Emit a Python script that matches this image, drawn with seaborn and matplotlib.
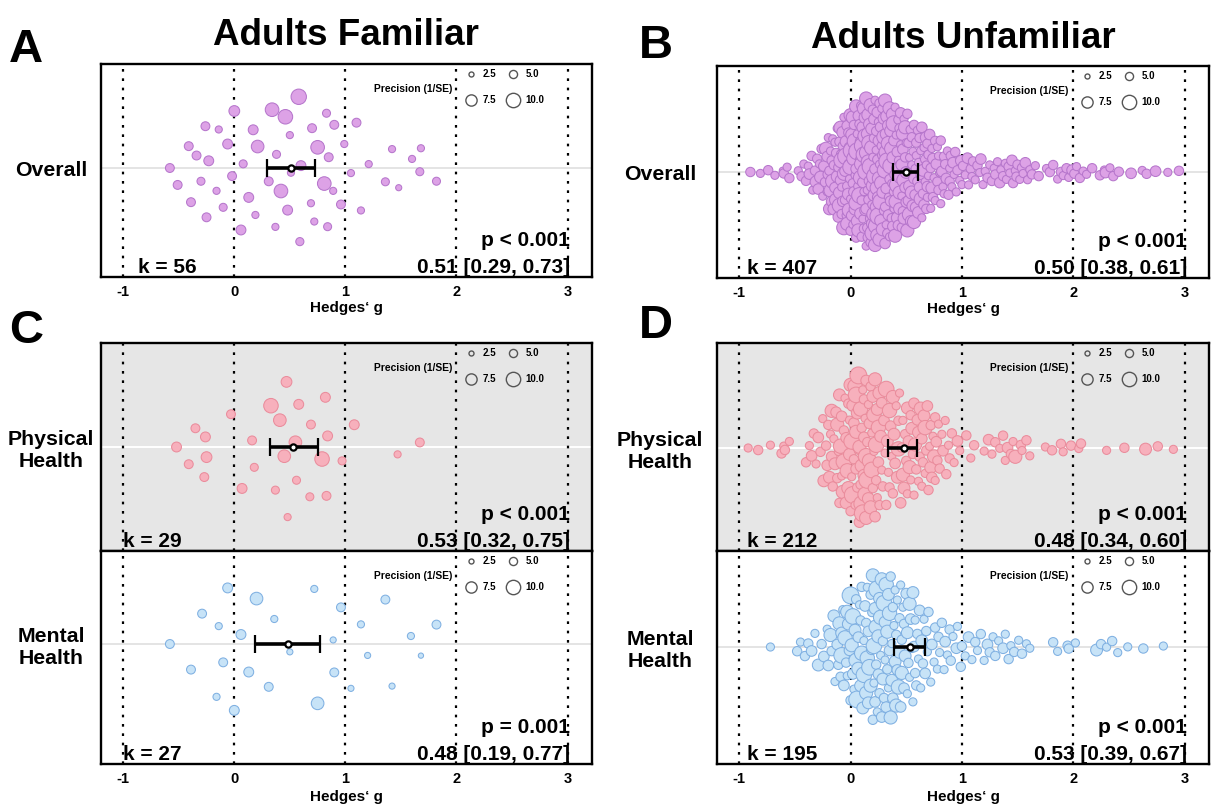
import numpy as np
import matplotlib
matplotlib.use("Agg")
import matplotlib.pyplot as plt
from matplotlib.lines import Line2D
import seaborn as sns


def vals(text):
    return np.array(text.split(), dtype=float)


# ---------------------------------------------------------------- data
# Effect sizes (Hedges' g) and precision (1/SE) of every study

# Adults, familiar partner - overall
fam_overall_g = vals("""
-0.58 -0.51 -0.41 -0.39 -0.34 -0.30 -0.26 -0.25 -0.23 -0.16
-0.14 -0.10 -0.06 -0.02 0.00 0.06 0.08 0.13 0.17 0.19
0.21 0.31 0.34 0.37 0.38 0.42 0.46 0.48 0.50 0.51
0.58 0.59 0.60 0.69 0.70 0.72 0.75 0.81 0.83 0.84
0.85 0.89 0.90 0.96 0.99 1.05 1.10 1.14 1.21 1.36
1.42 1.48 1.60 1.67 1.68 1.82
""")
fam_overall_prec = vals("""
5.6 5.6 5.6 5.6 5.6 4.9 5.6 5.6 6.4 4.2
4.2 4.9 6.4 5.6 7.1 6.4 4.9 6.4 6.4 4.2
8.6 5.6 9.4 4.2 4.9 9.4 10.1 6.4 4.2 4.2
10.8 5.0 6.4 4.2 5.6 4.2 9.4 9.4 4.9 4.9
5.6 4.2 5.6 5.6 4.2 4.2 5.6 4.2 4.2 4.9
4.2 3.4 4.2 4.9 4.2 4.9
""")

# Adults, familiar partner - physical health
fam_physical_g = vals("""
-0.52 -0.41 -0.35 -0.27 -0.26 -0.25 -0.03 0.07 0.16 0.18
0.33 0.37 0.41 0.45 0.47 0.48 0.55 0.56 0.58 0.68
0.69 0.79 0.82 0.83 0.84 0.97 1.08 1.47 1.67
""")
fam_physical_prec = vals("""
6.4 5.6 5.6 5.6 6.4 7.1 5.6 6.4 5.6 4.9
10.1 4.9 8.6 8.6 7.1 4.2 8.6 4.9 6.4 4.9
5.6 10.1 6.4 5.6 6.4 4.9 6.4 4.2 5.6
""")

# Adults, familiar partner - mental health
fam_mental_g = vals("""
-0.58 -0.39 -0.29 -0.16 -0.14 -0.10 -0.06 0.00 0.06 0.13
0.20 0.31 0.36 0.50 0.72 0.75 0.89 0.90 0.96 1.05
1.14 1.20 1.36 1.42 1.59 1.68 1.82
""")
fam_mental_prec = vals("""
5.6 5.6 5.6 4.2 4.2 5.6 6.4 6.4 6.4 6.4
8.6 5.6 4.2 3.4 4.2 8.6 3.4 5.6 5.6 3.4
4.2 3.4 5.6 3.4 4.2 2.7 5.6
""")

# Adults, unfamiliar partner - overall
unfam_overall_g = vals("""
-0.90 -0.81 -0.74 -0.68 -0.61 -0.60 -0.57 -0.55 -0.47 -0.44 -0.42
-0.40 -0.38 -0.37 -0.35 -0.34 -0.32 -0.31
-0.30 -0.29 -0.28 -0.27 -0.26 -0.25 -0.24 -0.23 -0.22 -0.21 -0.21
-0.20 -0.20 -0.19 -0.19 -0.18 -0.18 -0.17 -0.17 -0.16 -0.16 -0.15 -0.15 -0.14 -0.14 -0.13 -0.13 -0.12 -0.12 -0.11 -0.11
-0.10 -0.10 -0.10 -0.09 -0.09 -0.09 -0.08 -0.08 -0.08 -0.07 -0.07 -0.07 -0.06 -0.06 -0.06 -0.05 -0.05 -0.04 -0.04 -0.04 -0.03 -0.03 -0.03 -0.02 -0.02 -0.02 -0.01 -0.01 -0.01
0.00 0.00 0.00 0.00 0.01 0.01 0.01 0.02 0.02 0.02 0.03 0.03 0.03 0.04 0.04 0.04 0.05 0.05 0.05 0.05 0.06 0.06 0.06 0.07 0.07 0.07 0.08 0.08 0.08 0.09 0.09 0.09 0.09 0.10
0.10 0.10 0.11 0.11 0.11 0.11 0.12 0.12 0.12 0.12 0.13 0.13 0.13 0.13 0.14 0.14 0.14 0.14 0.15 0.15 0.15 0.15 0.16 0.16 0.16 0.16 0.17 0.17 0.17 0.17 0.18 0.18 0.18 0.19 0.19 0.19 0.19
0.20 0.20 0.20 0.20 0.21 0.21 0.21 0.21 0.22 0.22 0.22 0.22 0.23 0.23 0.23 0.23 0.24 0.24 0.24 0.24 0.25 0.25 0.25 0.25 0.26 0.26 0.26 0.26 0.27 0.27 0.27 0.28 0.28 0.28 0.29 0.29 0.29
0.30 0.30 0.30 0.30 0.31 0.31 0.31 0.31 0.32 0.32 0.32 0.32 0.33 0.33 0.33 0.34 0.34 0.34 0.34 0.35 0.35 0.35 0.36 0.36 0.36 0.37 0.37 0.37 0.38 0.38 0.38 0.39 0.39 0.39 0.39
0.40 0.40 0.40 0.41 0.41 0.41 0.42 0.42 0.42 0.43 0.43 0.43 0.44 0.44 0.44 0.45 0.45 0.45 0.46 0.46 0.46 0.47 0.47 0.47 0.48 0.48 0.48 0.49 0.49 0.49
0.50 0.50 0.50 0.51 0.51 0.51 0.52 0.52 0.53 0.53 0.53 0.54 0.54 0.55 0.55 0.55 0.56 0.56 0.57 0.57 0.57 0.58 0.58 0.59 0.59 0.59
0.60 0.60 0.61 0.61 0.62 0.62 0.63 0.63 0.63 0.64 0.64 0.65 0.65 0.66 0.66 0.67 0.67 0.68 0.68 0.68 0.69 0.69 0.69
0.70 0.70 0.71 0.72 0.72 0.73 0.73 0.74 0.74 0.75 0.76 0.76 0.77 0.78 0.78 0.79 0.79
0.80 0.81 0.81 0.82 0.83 0.84 0.84 0.85 0.86 0.87 0.88 0.89 0.89
0.90 0.91 0.92 0.93 0.94 0.95 0.96 0.98 0.99
1.00 1.01 1.03 1.05 1.06 1.08 1.09
1.10 1.12 1.14 1.16 1.17 1.19
1.21 1.23 1.25 1.27 1.29
1.30 1.32 1.34 1.35 1.37 1.39
1.40 1.42 1.43 1.45 1.46 1.48 1.49
1.50 1.52 1.54 1.55 1.57 1.59
1.61 1.63 1.66 1.69
1.76 1.79
1.82 1.86 1.89
1.91 1.94 1.96 1.99
2.01 2.03 2.06 2.09
2.12 2.17
2.24 2.28 2.29 2.33 2.36 2.41 2.52 2.62 2.66 2.74 2.85 2.95
""")
unfam_overall_prec = vals("""
6 5 6 5 4 6 5 6 5 6 5
6 5 7 6 5 6 8
6 7 5 8 6 5 7 6 9 5 7
7 5 8 6 9 5 7 6 10 5 8 6 7 5 9 6 8 5 7 6
8 6 10 5 7 9 6 11 5 8 7 6 9 5 10 7 6 8 5 12 6 7 9 5 8 6 10 7 5
9 6 11 5 8 7 12 6 9 5 10 7 6 8 11 5 9 6 7 10 5 8 12 6 7 9 5 11 6 8 7 10 5 6
10 6 8 5 12 7 9 6 11 5 8 7 10 6 9 5 12 7 8 6 11 5 9 7 10 6 8 5 11 7 9 6 12 5 8 7 10
9 6 11 5 8 7 10 6 12 5 9 7 8 6 11 5 10 7 9 6 8 5 12 7 10 6 9 5 11 7 8 6 10 5 9 7 8
8 6 10 5 9 7 11 6 8 5 10 7 9 6 12 5 8 7 10 6 9 5 11 7 8 6 10 5 9 7 8 6 11 5 7
7 5 9 6 10 5 8 7 11 6 7 5 9 6 8 5 10 7 6 8 5 9 6 7 10 5 8 6 7 9
7 5 8 6 9 5 7 6 10 5 8 6 7 5 9 6 8 5 7 6 9 5 7 6 8 5
6 5 8 5 7 6 9 5 6 7 5 8 6 5 7 6 5 8 6 5 7 6 5
6 5 7 5 6 8 5 6 7 5 6 5 7 6 5 6 5
5 6 5 7 5 6 5 6 7 5 6 5 6
6 5 7 5 6 5 6 5 7
5 6 5 7 5 6 5
6 5 6 5 7 5
5 6 5 6 5
6 5 7 5 6 5
5 6 5 7 6 5 6
6 5 6 5 7 5
5 6 5 6
5 6
6 5 6
5 6 5 7
6 5 6 5
5 6
6 5 7 5 6 6 7 5 6 7 5 6
""")

# Adults, unfamiliar partner - physical health
unfam_physical_g = vals("""
-0.92 -0.83 -0.72 -0.62 -0.60 -0.59 -0.55
-0.40 -0.37 -0.35 -0.33 -0.31
-0.29 -0.27 -0.25 -0.24 -0.22 -0.21
-0.20 -0.19 -0.18 -0.17 -0.17 -0.16 -0.15 -0.14 -0.13 -0.12 -0.12 -0.11
-0.10 -0.10 -0.09 -0.08 -0.08 -0.07 -0.06 -0.06 -0.05 -0.04 -0.04 -0.03 -0.02 -0.02 -0.01 -0.01
0.00 0.00 0.01 0.01 0.02 0.02 0.03 0.03 0.04 0.04 0.05 0.05 0.05 0.06 0.06 0.07 0.07 0.08 0.08 0.09 0.09
0.10 0.10 0.10 0.11 0.11 0.12 0.12 0.12 0.13 0.13 0.14 0.14 0.14 0.15 0.15 0.16 0.16 0.17 0.17 0.18 0.18 0.19 0.19
0.20 0.20 0.21 0.21 0.22 0.22 0.23 0.23 0.24 0.24 0.25 0.25 0.26 0.26 0.27 0.28 0.28 0.29
0.30 0.31 0.32 0.32 0.33 0.34 0.35 0.35 0.36 0.37 0.38 0.38 0.39
0.40 0.41 0.42 0.43 0.43 0.44 0.45 0.46 0.47 0.47 0.48 0.49
0.50 0.51 0.51 0.52 0.53 0.54 0.54 0.55 0.56 0.57 0.57 0.58 0.59
0.60 0.61 0.61 0.62 0.63 0.64 0.64 0.65 0.66 0.67 0.67 0.68 0.69
0.70 0.71 0.72 0.72 0.73 0.74 0.75 0.76 0.76 0.77 0.78 0.79
0.80 0.82 0.83 0.85 0.86 0.88 0.89
0.91 0.93 0.96 0.98
1.04 1.08 1.11 1.20 1.24 1.27 1.30 1.34 1.37 1.39 1.41 1.44 1.46 1.48 1.53
1.54 1.58 1.61 1.75 1.81 1.89 1.91 1.98 2.05 2.07 2.30 2.46 2.65 2.76 2.90
""")
unfam_physical_prec = vals("""
5 6 5 6 5 6 5
6 5 7 6 5
7 6 5 8 6 7
6 8 5 7 9 6 5 8 7 6 9 5
8 6 10 5 7 9 6 11 5 8 7 10 6 9 5 8
9 6 11 5 8 12 7 6 10 5 9 7 11 6 8 5 12 7 9 6 10
11 6 9 5 12 7 8 6 10 5 11 7 9 6 12 5 8 7 10 6 9 5 11
8 6 10 5 9 7 11 6 8 5 10 7 9 6 8 5 7 6
7 5 11 6 8 5 10 6 7 5 9 6 8
7 5 8 6 10 5 7 6 9 5 8 6
6 8 5 7 9 6 5 8 6 7 5 9 6
7 5 8 6 9 5 7 6 8 5 10 6 7
6 5 8 6 7 5 9 6 5 7 6 5
6 5 7 5 6 5 6
6 5 7 5
6 5 6 5 7 5 6 5 6 5 7 6 5 9 6
5 6 5 5 6 6 5 6 5 6 5 6 8 6 5
""")

# Adults, unfamiliar partner - mental health
unfam_mental_g = vals("""
-0.72 -0.48 -0.45 -0.41
-0.38 -0.35 -0.32
-0.29 -0.26 -0.24 -0.21
-0.20 -0.18 -0.17 -0.15 -0.14 -0.12 -0.11
-0.10 -0.09 -0.08 -0.08 -0.07 -0.06 -0.05 -0.04 -0.03 -0.03 -0.02 -0.01
0.00 0.00 0.01 0.02 0.02 0.03 0.04 0.05 0.05 0.06 0.07 0.07 0.08 0.09 0.09
0.10 0.10 0.11 0.12 0.12 0.13 0.14 0.14 0.15 0.15 0.16 0.16 0.17 0.18 0.18 0.19 0.19
0.20 0.20 0.21 0.21 0.22 0.22 0.23 0.23 0.24 0.24 0.25 0.25 0.26 0.26 0.27 0.27 0.28 0.28 0.29 0.29
0.30 0.30 0.31 0.31 0.32 0.32 0.33 0.33 0.34 0.34 0.35 0.35 0.36 0.36 0.37 0.37 0.38 0.38 0.39
0.40 0.40 0.41 0.41 0.42 0.42 0.43 0.44 0.44 0.45 0.45 0.46 0.46 0.47 0.48 0.48 0.49
0.50 0.51 0.51 0.52 0.53 0.53 0.54 0.55 0.56 0.56 0.57 0.58 0.58 0.59
0.60 0.61 0.62 0.63 0.64 0.65 0.66 0.67 0.68 0.69
0.70 0.72 0.73 0.75 0.76 0.78 0.79
0.80 0.82 0.84 0.85 0.87 0.89
0.90 0.92 0.95 0.96 0.99
1.00 1.03 1.06 1.09 1.12 1.14 1.17 1.20 1.23 1.25 1.28 1.30 1.33 1.37 1.39 1.42 1.44 1.47
1.51 1.54 1.58 1.61 1.82 1.86 1.95 1.96 2.02 2.21 2.25 2.30 2.35 2.40 2.49 2.63 2.81
""")
unfam_mental_prec = vals("""
5 6 5 6
6 7 5
8 6 7 5
7 9 6 8 5 7 6
9 6 8 11 5 7 10 6 9 5 8 7
12 6 9 7 11 5 8 10 6 12 7 9 5 8 6
10 6 8 5 11 7 9 6 10 5 8 7 11 6 9 5 7
9 6 11 5 8 7 10 6 12 5 9 7 8 6 10 5 9 7 6 8
11 6 8 5 10 7 9 6 8 5 10 7 6 9 5 8 6 7 5
8 5 9 6 7 5 10 6 8 5 7 6 9 5 7 6 8
7 5 8 6 9 5 7 6 8 5 7 6 5 6
6 5 7 5 8 6 5 7 6 5
6 5 7 5 6 5 6
5 6 5 7 5 6
6 5 7 5 6
6 5 7 5 6 5 6 5 7 6 5 6 5 7 5 6 5 6
5 6 5 5 6 5 6 6 5 8 6 5 6 5 5 6 5
""")

# Pooled estimates: g, lower CI, upper CI, p-value text
fam_overall_est = [0.51, 0.29, 0.73]
fam_physical_est = [0.53, 0.32, 0.75]
fam_mental_est = [0.48, 0.19, 0.77]
unfam_overall_est = [0.50, 0.38, 0.61]
unfam_physical_est = [0.48, 0.34, 0.60]
unfam_mental_est = [0.53, 0.39, 0.67]
p_texts = {"fam_overall": "p < 0.001", "fam_physical": "p < 0.001",
           "fam_mental": "p = 0.001", "unfam_overall": "p < 0.001",
           "unfam_physical": "p < 0.001", "unfam_mental": "p < 0.001"}

x_ticks = [-1, 0, 1, 2, 3]
legend_values = [2.5, 5.0, 7.5, 10.0]

# ---------------------------------------------------------------- style
sns.set_theme(style="white", rc={
    "axes.edgecolor": "black", "text.color": "black",
    "xtick.color": "black", "ytick.color": "black",
    "axes.labelcolor": "black"})
plt.rcParams["font.family"] = ["Liberation Sans", "DejaVu Sans"]
plt.rcParams["font.weight"] = "bold"

PURPLE = ("#DDA2E6", "#B676CC")
PINK = ("#F7B0BC", "#EA8C9C")
BLUE = ("#C7E3F7", "#7FB0E2")
GREY_BG = "#E6E6E6"

FIG_W, FIG_H = 1211, 809
fig = plt.figure(figsize=(FIG_W / 100, FIG_H / 100), dpi=100)


def van_der_corput(n, base=2):
    seq = np.empty(n)
    for i in range(1, n + 1):
        q, denom, k = 0.0, 1.0, i
        while k:
            denom *= base
            k, r = divmod(k, base)
            q += r / denom
        seq[i - 1] = q
    return seq


def quasirandom(values, width):
    """Quasirandom (van der Corput) offsets scaled by the kernel density."""
    v = np.asarray(values, float)
    n = v.size
    sd = v.std(ddof=1)
    q75, q25 = np.percentile(v, [75, 25])
    bw = 0.9 * min(sd, (q75 - q25) / 1.34) * n ** -0.2
    grid = np.linspace(v.min() - 3 * bw, v.max() + 3 * bw, 1024)
    dens = np.exp(-0.5 * ((grid[:, None] - v[None, :]) / bw) ** 2).sum(1)
    dens /= dens.max()
    local = np.interp(v, grid, dens)
    order = np.argsort(v, kind="stable")
    ranks = np.empty(n, int)
    ranks[order] = np.arange(n)
    return (van_der_corput(n)[ranks] - 0.5) * 2 * local * width


def marker_diameter(prec):
    """Marker diameter in points for a precision value."""
    return 1.25 * (1.5 + np.asarray(prec)) * 0.72


def make_axes(left, top, right, bottom):
    return fig.add_axes([left / FIG_W, 1 - bottom / FIG_H,
                         (right - left) / FIG_W, (bottom - top) / FIG_H])


def draw_panel(box, centre, g, prec, est, p_text, row_label, colours, bg,
               k_x, label_pad, show_x):
    left, top, right, bottom = box
    ax = make_axes(*box)
    ax.set_facecolor(bg)
    ax.axhline(0, color="white" if bg != "white" else "#E4E4E4",
               lw=1.4, zorder=0.5)
    for t in x_ticks:
        ax.axvline(t, color="black", lw=1.6, ls=(0, (1.2, 3.0)), zorder=1)

    offsets = quasirandom(g, 76)
    sns.scatterplot(x=g, y=offsets, s=marker_diameter(prec) ** 2,
                    color=colours[0], edgecolor=colours[1], linewidth=0.75,
                    legend=False, ax=ax, zorder=2)

    e, lo, hi = est
    ax.errorbar([e], [0], xerr=[[e - lo], [hi - e]], fmt="o", color="black",
                ecolor="black", elinewidth=2.6, capsize=6.5, capthick=2.6,
                ms=4.5, mfc="white", mec="black", mew=1.6, zorder=4)

    ax.set_xlim(-1.2, 3.22)
    ax.set_ylim(-(bottom - centre), centre - top)
    ax.set_xlabel("")
    ax.set_ylabel("")
    ax.set_xticks(x_ticks)
    ax.set_xticklabels([str(t) for t in x_ticks], fontsize=10.5,
                       fontweight="bold")
    ax.tick_params(axis="x", length=0, pad=6, labelbottom=show_x)
    ax.set_yticks([0], labels=[row_label], fontsize=15.3, fontweight="bold",
                  ha="center", ma="center")
    ax.tick_params(axis="y", length=0, pad=label_pad)
    for s in ax.spines.values():
        s.set_visible(True)
        s.set_color("black")
        s.set_linewidth(1.7)

    # study count and pooled estimate
    ax.annotate(f"k = {len(g)}", xy=(k_x, 0), xycoords=("data", "axes fraction"),
                xytext=(0, 4), textcoords="offset pixels", ha="left",
                va="baseline", fontsize=15, fontweight="bold")
    ax.annotate(f"{e:.2f} [{lo:.2f}, {hi:.2f}]", xy=(1, 0),
                xycoords="axes fraction", xytext=(-22, 4),
                textcoords="offset pixels", ha="right", va="baseline",
                fontsize=15, fontweight="bold")
    ax.annotate(p_text, xy=(1, 0), xycoords="axes fraction", xytext=(-22, 31),
                textcoords="offset pixels", ha="right", va="baseline",
                fontsize=15, fontweight="bold")

    # precision size key
    key_order = (legend_values[0], legend_values[2],
                 legend_values[1], legend_values[3])
    handles = [Line2D([], [], ls="", marker="o", ms=marker_diameter(v),
                      mfc="none", mec="#555555", mew=1.0)
               for v in key_order]
    labels = [f"{v:.1f}" for v in key_order]
    h_px = bottom - top
    ax.legend(handles, labels, ncol=2, loc="upper left",
              bbox_to_anchor=(363 / (right - left), 1 - 5 / h_px),
              frameon=False, prop={"size": 7.0, "weight": "bold"},
              handlelength=1.4, handletextpad=0.55, columnspacing=1.0,
              labelspacing=1.65, borderpad=0, borderaxespad=0)
    ax.annotate("Precision (1/SE)", xy=(0, 1), xycoords="axes fraction",
                xytext=(351, -25), textcoords="offset pixels", ha="right",
                va="center", fontsize=7.4, fontweight="bold")
    return ax


draw_panel((101, 64, 592, 277), 168, fam_overall_g, fam_overall_prec,
           fam_overall_est, p_texts["fam_overall"], "Overall", PURPLE,
           "white", -0.87, 36, True)
draw_panel((717, 66, 1209, 278), 172, unfam_overall_g, unfam_overall_prec,
           unfam_overall_est, p_texts["unfam_overall"], "Overall", PURPLE,
           "white", -0.93, 41, True)
draw_panel((101, 343, 592, 551), 447, fam_physical_g, fam_physical_prec,
           fam_physical_est, p_texts["fam_physical"], "Physical\nHealth",
           PINK, GREY_BG, -1.0, 36, False)
draw_panel((101, 551, 592, 764), 644, fam_mental_g, fam_mental_prec,
           fam_mental_est, p_texts["fam_mental"], "Mental\nHealth",
           BLUE, "white", -1.0, 36, True)
draw_panel((717, 343, 1209, 551), 448, unfam_physical_g, unfam_physical_prec,
           unfam_physical_est, p_texts["unfam_physical"], "Physical\nHealth",
           PINK, GREY_BG, -0.93, 41, False)
draw_panel((717, 551, 1209, 764), 647, unfam_mental_g, unfam_mental_prec,
           unfam_mental_est, p_texts["unfam_mental"], "Mental\nHealth",
           BLUE, "white", -0.93, 41, True)


def fig_text(x_px, y_px, s, **kw):
    fig.text(x_px / FIG_W, 1 - y_px / FIG_H, s, fontweight="bold", **kw)


# panel letters, column titles and axis titles
fig_text(9, 62, "A", fontsize=34, ha="left", va="baseline")
fig_text(639, 58, "B", fontsize=34, ha="left", va="baseline")
fig_text(9, 343, "C", fontsize=34, ha="left", va="baseline")
fig_text(639, 338, "D", fontsize=34, ha="left", va="baseline")
fig_text(346, 45, "Adults Familiar", fontsize=26.5, ha="center", va="baseline")
fig_text(963, 48, "Adults Unfamiliar", fontsize=26.5, ha="center",
         va="baseline")
for cx, base in ((346, 312), (963, 313), (346, 801), (963, 801)):
    fig_text(cx, base, "Hedges\u2018 g", fontsize=11, ha="center",
             va="baseline")

fig.savefig("out.png", dpi=100)
